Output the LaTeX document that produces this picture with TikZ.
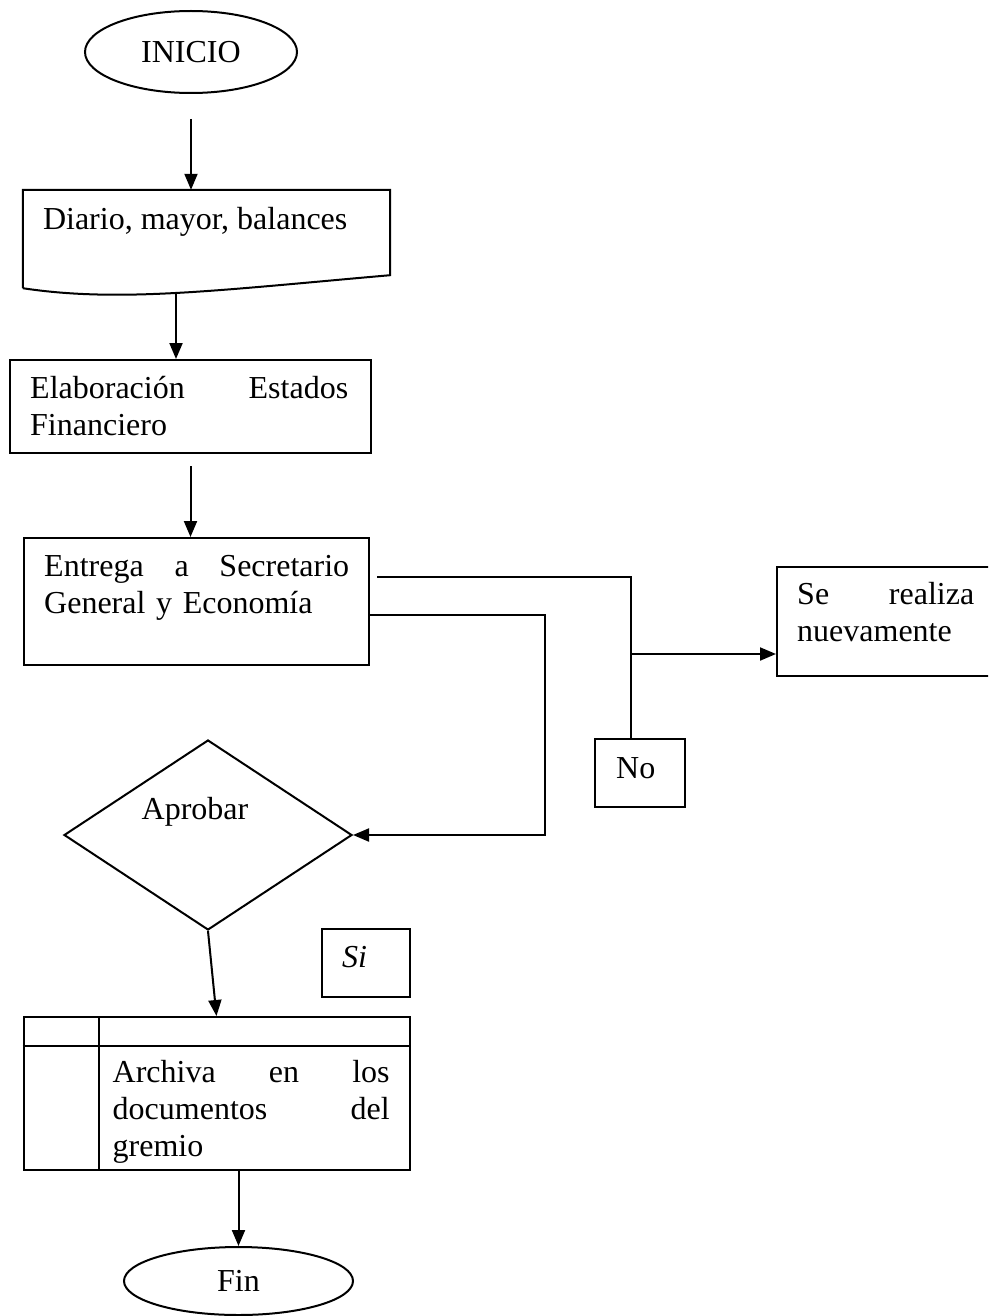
\documentclass[tikz,border=0pt]{standalone}
\usepackage{fontspec}
\setmainfont{Liberation Serif}
\usetikzlibrary{arrows.meta,shapes.geometric,calc}
\begin{document}
\begin{tikzpicture}[x=1pt,y=-1pt,
  line/.style={draw=black,line width=2pt},
  arr/.style={line,-{Triangle[length=16pt,width=13pt]}},
  boxnode/.style={line,rectangle,inner sep=0pt,anchor=center},
  ovalnode/.style={line,ellipse,inner sep=0pt,font=\fontsize{32}{37}\selectfont},
  txt/.style={inner sep=0pt,align=left,anchor=base west,font=\fontsize{32}{37}\selectfont}]
\useasboundingbox (0,0) rectangle (988,1316);
\fill[white] (0,0) rectangle (988,1316);
\clip (0,0) rectangle (988,1316);

% nodes
\node[ovalnode,minimum width=212pt,minimum height=82pt] (inicio) at (191,52) {INICIO};
\node[rectangle,inner sep=0pt,minimum width=367pt,minimum height=98pt] (diario) at (206.5,239) {};
\draw[line] (diario.south west) -- (diario.north west) -- (diario.north east)
  -- ([shift={(0,-13)}]diario.south east) .. controls (220,290) and (120,303) .. (diario.south west);
\coordinate (dbot) at (176,293);
\node[boxnode,minimum width=361pt,minimum height=93pt] (elab) at (190.5,406.5) {};
\node[boxnode,minimum width=345pt,minimum height=127pt] (entrega) at (196.5,601.5) {};
\node[boxnode,minimum width=218pt,minimum height=109pt] (se) at (886,621.5) {};
\node[boxnode,minimum width=90pt,minimum height=68pt] (no) at (640,773) {};
\node[line,diamond,inner sep=0pt,minimum width=288pt,minimum height=190pt] (aprobar) at (208,835) {};
\node[boxnode,minimum width=88pt,minimum height=68pt] (si) at (366,963) {};
\node[boxnode,minimum width=386pt,minimum height=153pt] (archive) at (216.5,1093.5) {};
\node[ovalnode,minimum width=229pt,minimum height=68pt] (fin) at (238.5,1281) {Fin};

% archive inner lines
\draw[line] ([shift={(0,30)}]archive.north west) -- ([shift={(0,30)}]archive.north east);
\draw[line] ([shift={(76,0)}]archive.north west) -- ([shift={(76,0)}]archive.south west);

% texts
\node[txt] at ([shift={(20,40)}]diario.north west) {Diario, mayor, balances};
\node[txt,text width=318pt] at ([shift={(21,39)}]elab.north west) {Elaboración\hfill Estados\\Financiero};
\node[txt,text width=305pt] at ([shift={(21,39)}]entrega.north west) {Entrega\hfill a\hfill Secretario\\General y Economía};
\node[txt,text width=177pt] at ([shift={(21,38)}]se.north west) {Se\hfill realiza\\nuevamente};
\node[txt] at ([shift={(22,40)}]no.north west) {No};
\node[txt,anchor=base] at ([shift={(-13,-16)}]aprobar.center) {Aprobar};
\node[txt] at ([shift={(21,39)}]si.north west) {\itshape Si};
\node[txt,text width=277pt] at ([shift={(90,66)}]archive.north west) {Archiva\hfill en\hfill los\\documentos\hfill del\\gremio};

% connectors
\draw[arr,shorten <=25pt] (inicio.south) -- (inicio.south |- diario.north);
\draw[arr] (dbot) -- (dbot |- elab.north);
\draw[arr,shorten <=12pt] (elab.south) -- (elab.south |- entrega.north);
\coordinate (nj) at (631,654);
\draw[line] ([shift={(7,-24.5)}]entrega.east) -| ([xshift=-9pt]no.north);
\draw[arr] (nj) -- (nj -| se.west);
\draw[arr] ([shift={(0,13.5)}]entrega.east) -- ++(175,0) |- (aprobar.east);
\draw[arr] (aprobar.south) -- (archive.north);
\draw[arr] (fin.north |- archive.south) -- (fin.north);
\end{tikzpicture}
\end{document}
